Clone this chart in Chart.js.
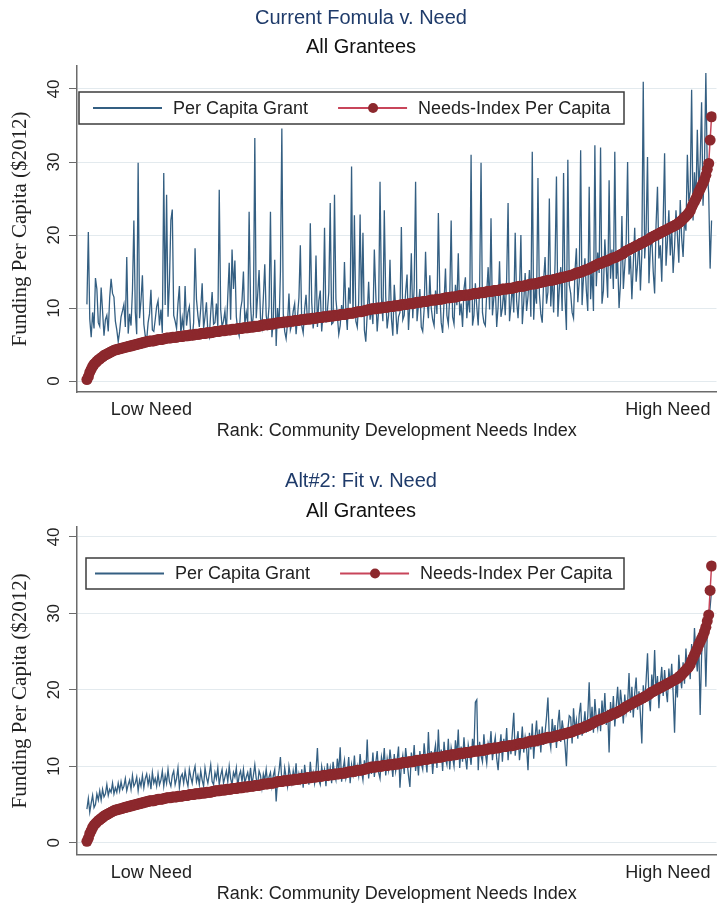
<!DOCTYPE html>
<html>
<head>
<meta charset="utf-8">
<title>Per Capita Grants v. Need</title>
<script src="https://cdn.jsdelivr.net/npm/chart.js@4.4.0/dist/chart.umd.min.js"></script>
<style>
  html, body { margin: 0; padding: 0; background: #fff; }
  body { width: 722px; height: 907px; position: relative; overflow: hidden; }
  .panel { position: absolute; left: 0; width: 722px; }
  canvas { display: block; }
</style>
</head>
<body>
<div class="panel" style="top:0"><canvas id="current-chart" width="722" height="445"></canvas></div>
<div class="panel" style="top:462px"><canvas id="alt2-chart" width="722" height="445"></canvas></div>
<script>
// Grantees sorted by needs index (rank 0 = lowest need)
const needsIndex = [
  0.2, 0.6, 1.2, 1.6, 2.0, 2.3, 2.5, 2.7, 2.9, 3.0,
  3.2, 3.3, 3.5, 3.6, 3.7, 3.8, 3.9, 4.0, 4.1, 4.2,
  4.3, 4.3, 4.4, 4.4, 4.5, 4.5, 4.6, 4.6, 4.7, 4.7,
  4.8, 4.8, 4.9, 4.9, 5.0, 5.0, 5.1, 5.1, 5.2, 5.2,
  5.3, 5.3, 5.4, 5.4, 5.5, 5.5, 5.5, 5.5, 5.6, 5.6,
  5.7, 5.7, 5.7, 5.7, 5.8, 5.8, 5.9, 5.9, 5.9, 5.9,
  6.0, 6.0, 6.0, 6.0, 6.1, 6.1, 6.1, 6.1, 6.2, 6.2,
  6.2, 6.2, 6.3, 6.3, 6.3, 6.3, 6.4, 6.4, 6.4, 6.4,
  6.5, 6.5, 6.5, 6.5, 6.6, 6.6, 6.6, 6.6, 6.7, 6.7,
  6.8, 6.8, 6.8, 6.8, 6.9, 6.9, 6.9, 6.9, 7.0, 7.0,
  7.0, 7.0, 7.1, 7.1, 7.1, 7.1, 7.2, 7.2, 7.2, 7.2,
  7.3, 7.3, 7.3, 7.3, 7.4, 7.4, 7.4, 7.4, 7.5, 7.5,
  7.5, 7.5, 7.6, 7.6, 7.7, 7.7, 7.7, 7.7, 7.8, 7.8,
  7.8, 7.8, 7.9, 7.9, 8.0, 8.0, 8.0, 8.0, 8.1, 8.1,
  8.1, 8.1, 8.2, 8.2, 8.2, 8.2, 8.3, 8.3, 8.3, 8.3,
  8.4, 8.4, 8.4, 8.4, 8.5, 8.5, 8.5, 8.5, 8.6, 8.6,
  8.6, 8.6, 8.7, 8.7, 8.7, 8.7, 8.8, 8.8, 8.8, 8.8,
  8.9, 8.9, 8.9, 8.9, 9.0, 9.0, 9.0, 9.0, 9.1, 9.1,
  9.1, 9.1, 9.2, 9.2, 9.3, 9.3, 9.3, 9.3, 9.4, 9.4,
  9.5, 9.5, 9.5, 9.5, 9.6, 9.6, 9.7, 9.7, 9.8, 9.8,
  9.9, 9.9, 9.9, 9.9, 10.0, 10.0, 10.0, 10.0, 10.1, 10.1,
  10.1, 10.1, 10.2, 10.2, 10.2, 10.2, 10.3, 10.3, 10.3, 10.3,
  10.4, 10.4, 10.5, 10.5, 10.5, 10.5, 10.6, 10.6, 10.6, 10.6,
  10.7, 10.7, 10.8, 10.8, 10.8, 10.8, 10.9, 10.9, 10.9, 10.9,
  11.0, 11.0, 11.1, 11.1, 11.1, 11.1, 11.2, 11.2, 11.2, 11.2,
  11.3, 11.3, 11.4, 11.4, 11.4, 11.4, 11.5, 11.5, 11.5, 11.5,
  11.6, 11.6, 11.7, 11.7, 11.7, 11.7, 11.8, 11.8, 11.8, 11.8,
  11.9, 11.9, 12.0, 12.0, 12.0, 12.0, 12.1, 12.1, 12.1, 12.1,
  12.2, 12.2, 12.3, 12.3, 12.3, 12.3, 12.4, 12.4, 12.4, 12.4,
  12.5, 12.5, 12.6, 12.6, 12.6, 12.6, 12.7, 12.7, 12.7, 12.7,
  12.8, 12.8, 12.9, 12.9, 13.0, 13.0, 13.0, 13.0, 13.1, 13.1,
  13.2, 13.2, 13.3, 13.3, 13.3, 13.3, 13.4, 13.4, 13.5, 13.5,
  13.6, 13.6, 13.7, 13.7, 13.8, 13.8, 13.8, 13.8, 13.9, 13.9,
  14.0, 14.0, 14.1, 14.1, 14.2, 14.2, 14.3, 14.3, 14.4, 14.4,
  14.5, 14.5, 14.6, 14.7, 14.8, 14.8, 14.9, 14.9, 15.0, 15.1,
  15.2, 15.2, 15.3, 15.4, 15.5, 15.6, 15.7, 15.8, 15.9, 16.0,
  16.1, 16.1, 16.2, 16.3, 16.4, 16.4, 16.5, 16.6, 16.7, 16.8,
  16.9, 16.9, 17.0, 17.1, 17.2, 17.3, 17.4, 17.5, 17.7, 17.8,
  17.9, 18.0, 18.1, 18.2, 18.3, 18.4, 18.5, 18.6, 18.7, 18.8,
  18.9, 19.0, 19.1, 19.2, 19.3, 19.4, 19.6, 19.7, 19.8, 19.9,
  20.0, 20.1, 20.2, 20.3, 20.4, 20.5, 20.6, 20.7, 20.8, 20.9,
  21.0, 21.1, 21.2, 21.3, 21.4, 21.5, 21.7, 21.8, 22.0, 22.2,
  22.4, 22.6, 22.8, 23.0, 23.3, 23.8, 24.2, 24.6, 25.0, 25.4,
  25.9, 26.3, 26.7, 27.1, 27.6, 28.2, 29.0, 29.8, 33.0, 36.2
];

// Per capita grant under the current formula
const grantCurrent = [
  10.5, 20.4, 8.5, 6.0, 9.4, 7.2, 14.1, 12.6, 8.0, 7.5,
  12.8, 9.6, 6.2, 8.4, 9.0, 6.8, 11.4, 14.0, 12.0, 11.5,
  8.2, 7.0, 5.4, 6.8, 8.8, 9.6, 10.5, 7.4, 17.0, 6.5,
  9.2, 7.6, 12.4, 22.0, 9.5, 6.4, 29.9, 8.6, 11.0, 14.5,
  7.8, 6.2, 5.6, 8.0, 9.2, 12.5, 7.0, 6.8, 8.4, 10.2,
  11.0, 7.6, 9.8, 6.6, 28.5, 10.4, 25.5, 8.8, 13.6, 22.0,
  23.5, 9.0, 8.2, 7.2, 10.6, 13.0, 6.4, 8.6, 7.0, 13.0,
  7.6, 9.4, 10.2, 6.2, 5.8, 8.0, 18.2, 11.2, 9.0, 7.4,
  10.0, 13.4, 7.2, 8.8, 10.8, 6.6, 6.0, 9.4, 12.2, 7.8,
  8.0, 10.6, 7.4, 26.2, 9.8, 7.4, 8.2, 9.6, 6.6, 11.6,
  16.2, 8.4, 18.0, 12.6, 16.5, 8.8, 7.0, 6.2, 9.8, 11.0,
  15.0, 7.8, 9.4, 8.0, 23.2, 10.6, 7.0, 9.2, 33.3, 8.6,
  11.8, 15.2, 8.6, 7.4, 11.4, 16.0, 9.0, 7.6, 10.2, 23.2,
  6.0, 8.4, 16.6, 4.8, 10.0, 7.2, 15.0, 34.6, 9.2, 6.8,
  5.8, 8.0, 12.0, 7.0, 7.8, 9.6, 10.6, 6.4, 8.8, 11.4,
  18.6, 7.6, 6.6, 9.8, 11.8, 8.2, 8.4, 21.6, 10.8, 7.2,
  9.0, 17.2, 7.4, 11.0, 12.4, 6.8, 9.4, 21.0, 8.0, 9.6,
  12.2, 24.4, 7.8, 8.0, 25.5, 11.2, 9.0, 6.4, 7.6, 10.4,
  8.4, 16.3, 9.8, 7.0, 12.8, 10.6, 29.4, 8.6, 22.7, 8.2,
  7.4, 10.8, 22.8, 9.6, 20.3, 7.0, 5.4, 9.2, 13.6, 8.4,
  10.2, 7.8, 18.0, 12.0, 6.8, 9.6, 27.3, 11.4, 8.2, 23.4,
  11.6, 7.2, 9.0, 16.6, 8.6, 6.2, 13.2, 10.0, 6.4, 8.8,
  9.4, 21.1, 8.4, 9.0, 12.2, 14.6, 7.0, 10.6, 17.5, 8.6,
  12.8, 27.3, 8.2, 10.4, 12.6, 7.4, 6.8, 9.8, 17.7, 11.2,
  8.6, 14.5, 10.0, 8.4, 7.6, 12.4, 9.2, 23.0, 12.2, 8.0,
  6.6, 10.8, 15.4, 9.0, 7.8, 11.6, 22.0, 8.8, 7.8, 13.2,
  10.4, 17.5, 9.0, 10.6, 7.4, 12.6, 14.2, 8.6, 11.8, 9.4,
  31.0, 7.6, 9.0, 13.4, 10.2, 7.6, 12.8, 29.9, 9.4, 8.0,
  7.6, 12.2, 15.6, 9.8, 22.3, 9.0, 11.4, 13.0, 7.4, 10.2,
  16.4, 8.8, 10.0, 12.6, 9.0, 14.0, 24.4, 8.2, 10.4, 13.2,
  9.4, 20.3, 11.0, 8.6, 12.4, 20.0, 7.8, 10.8, 14.8, 9.6,
  11.6, 15.2, 8.8, 31.4, 8.4, 12.8, 10.6, 27.8, 12.0, 9.2,
  8.0, 13.8, 17.0, 10.6, 12.2, 25.0, 10.2, 14.6, 9.4, 16.0,
  28.0, 8.8, 12.6, 15.6, 9.6, 28.5, 11.4, 7.0, 30.3, 13.2,
  12.0, 9.4, 8.6, 15.0, 18.2, 10.8, 13.6, 31.6, 10.4, 14.2,
  16.8, 12.4, 9.6, 26.6, 11.2, 15.4, 9.6, 32.3, 13.0, 17.6,
  14.8, 32.0, 10.6, 12.4, 19.4, 15.6, 11.4, 27.5, 14.0, 18.0,
  12.6, 31.4, 14.0, 16.6, 10.0, 13.4, 22.6, 12.6, 15.8, 19.0,
  30.0, 14.6, 17.2, 11.2, 16.0, 21.0, 13.6, 16.0, 19.6, 12.4,
  17.4, 41.0, 16.8, 20.6, 30.7, 13.4, 18.2, 19.8, 15.0, 12.0,
  21.4, 26.6, 16.8, 18.6, 13.6, 22.0, 31.2, 15.8, 19.2, 23.4,
  17.2, 21.0, 14.8, 18.4, 23.4, 20.0, 16.2, 24.8, 19.6, 17.0,
  22.2, 20.6, 31.0, 24.6, 26.0, 39.9, 22.0, 28.6, 24.4, 34.4,
  26.2, 30.0, 38.2, 24.0, 29.4, 42.2, 28.8, 25.7, 15.4, 22.0
];

// Per capita grant under alternative #2 (fitted to need)
const grantAlt2 = [
  4.4, 5.8, 4.0, 5.2, 6.2, 4.6, 5.0, 6.4, 5.6, 6.8,
  5.6, 7.0, 6.0, 6.4, 7.6, 6.2, 7.0, 6.6, 7.8, 6.4,
  7.2, 6.6, 7.8, 6.8, 8.0, 7.0, 7.4, 8.4, 6.8, 7.6,
  8.2, 7.0, 8.8, 7.4, 7.8, 8.6, 6.8, 8.2, 7.4, 8.8,
  7.2, 8.4, 9.0, 7.6, 8.6, 7.0, 9.2, 7.8, 8.4, 7.4,
  9.0, 7.6, 8.2, 9.4, 7.4, 8.8, 7.8, 9.6, 8.0, 7.4,
  8.8, 9.4, 7.6, 8.4, 9.8, 7.2, 8.6, 9.0, 7.8, 9.4,
  8.2, 7.4, 9.6, 8.6, 7.8, 9.2, 10.0, 8.0, 8.8, 7.6,
  9.4, 8.2, 7.4, 9.8, 8.6, 7.8, 9.0, 10.2, 8.0, 7.6,
  9.2, 8.4, 9.8, 7.6, 8.8, 9.6, 7.8, 8.6, 9.4, 8.0,
  10.0, 8.4, 7.6, 9.2, 8.6, 9.8, 7.4, 8.8, 9.4, 8.0,
  9.6, 7.8, 8.6, 9.2, 8.0, 9.8, 7.6, 8.8, 10.2, 8.4,
  7.6, 9.4, 8.8, 7.2, 9.0, 8.2, 9.6, 7.8, 8.6, 9.2,
  7.4, 8.8, 9.6, 5.4, 8.2, 9.4, 11.2, 8.0, 7.6, 9.8,
  8.6, 7.4, 10.0, 8.8, 7.8, 9.4, 8.2, 10.4, 7.6, 9.0,
  8.0, 9.6, 7.2, 10.2, 8.6, 9.0, 7.6, 10.6, 8.4, 9.2,
  7.8, 9.4, 12.4, 8.2, 7.6, 10.0, 8.8, 9.6, 7.4, 10.4,
  8.6, 9.8, 7.8, 10.6, 9.0, 8.2, 11.0, 9.4, 12.5, 8.0,
  9.6, 10.8, 8.4, 9.2, 11.2, 7.8, 10.2, 9.0, 11.4, 8.6,
  10.0, 8.8, 11.6, 9.4, 8.2, 10.8, 9.2, 13.5, 8.4, 10.6,
  9.0, 11.8, 8.6, 10.4, 12.0, 9.2, 8.4, 11.2, 10.0, 12.4,
  8.8, 11.0, 9.6, 12.2, 10.4, 8.6, 11.6, 9.4, 10.8, 12.6,
  7.2, 10.2, 11.4, 9.0, 12.4, 10.6, 8.8, 7.3, 11.8, 10.0,
  12.8, 9.4, 11.2, 8.8, 12.0, 10.4, 9.6, 13.0, 11.0, 9.2,
  14.5, 10.4, 12.0, 9.0, 11.6, 12.8, 9.8, 14.8, 10.6, 12.2,
  9.4, 13.2, 11.0, 10.2, 13.6, 9.6, 12.4, 11.2, 10.0, 13.4,
  11.4, 14.8, 9.8, 12.6, 10.6, 13.8, 11.2, 9.6, 12.8, 11.6,
  10.2, 13.6, 12.0, 18.4, 18.7, 9.5, 13.2, 11.4, 10.6, 14.2,
  11.8, 10.4, 13.0, 12.2, 14.6, 10.8, 12.6, 13.8, 11.0, 9.5,
  12.4, 14.2, 10.6, 13.6, 12.0, 15.0, 10.8, 13.4, 11.6, 14.4,
  17.0, 11.4, 13.2, 14.6, 10.8, 12.6, 15.2, 11.8, 13.8, 12.4,
  9.5, 14.4, 12.2, 15.6, 11.0, 13.8, 16.0, 12.6, 14.8, 11.8,
  15.2, 12.8, 14.4, 16.4, 19.0, 13.6, 12.4, 16.2, 14.0, 15.4,
  12.4, 15.6, 17.4, 13.2, 16.0, 14.6, 12.8, 10.0, 14.8, 16.6,
  16.4, 13.0, 17.6, 14.6, 16.0, 13.6, 16.8, 18.3, 14.0, 15.2,
  17.2, 14.4, 16.6, 21.0, 15.0, 17.8, 14.4, 18.8, 16.2, 15.0,
  17.6, 14.6, 18.6, 16.0, 19.6, 15.4, 17.4, 11.8, 18.4, 16.0,
  19.2, 15.2, 17.8, 20.4, 16.6, 20.0, 18.0, 15.6, 19.4, 17.0,
  18.2, 22.2, 17.0, 20.4, 16.4, 19.6, 21.6, 17.4, 19.8, 16.8,
  13.0, 20.6, 18.4, 21.2, 24.8, 19.0, 17.2, 22.0, 19.8, 25.2,
  19.4, 21.8, 17.6, 20.8, 23.0, 19.2, 22.6, 20.0, 18.4, 22.8,
  20.6, 23.4, 19.6, 14.4, 21.2, 19.0, 24.6, 21.8, 20.2, 23.6,
  20.8, 25.4, 22.0, 24.2, 21.4, 26.0, 23.2, 28.1, 24.6, 22.4,
  26.4, 16.7, 24.6, 27.2, 28.2, 20.4, 27.6, 29.0, 30.8, 33.0
];

const yTickValues = [0, 10, 20, 30, 40];
const xTickLabels = ['Low Need', 'High Need'];

Chart.defaults.font.family = '"Liberation Sans", Arial, sans-serif';

const GRANT_COLOR = '#345f82';
const NEED_LINE = '#c8455a';
const NEED_MARKER = '#8c282d';
const AXIS_COLOR = '#6b6b6b';

// Stata-style legend box drawn inside the plot region
const boxLegend = {
  id: 'boxLegend',
  afterDatasetsDraw(chart, args, opts) {
    const { ctx, chartArea } = chart;
    const boxX = chartArea.left + opts.boxLeft;
    const boxY = chartArea.top + opts.boxTop;
    ctx.save();
    ctx.fillStyle = '#ffffff';
    ctx.fillRect(boxX, boxY, opts.boxWidth, opts.boxHeight);
    ctx.strokeStyle = '#3c3c3c';
    ctx.lineWidth = 1.5;
    ctx.strokeRect(boxX, boxY, opts.boxWidth, opts.boxHeight);

    const midY = boxY + opts.boxHeight / 2;
    ctx.font = '18px "Liberation Sans", Arial, sans-serif';
    ctx.textBaseline = 'middle';
    let x = chartArea.left + opts.itemStart;
    chart.data.datasets.forEach(ds => {
      ctx.strokeStyle = ds.borderColor;
      ctx.lineWidth = 2;
      ctx.beginPath();
      ctx.moveTo(x, midY);
      ctx.lineTo(x + 69, midY);
      ctx.stroke();
      if (ds.pointRadius > 0) {
        ctx.fillStyle = ds.pointBackgroundColor;
        ctx.beginPath();
        ctx.arc(x + 35, midY, 5, 0, Math.PI * 2);
        ctx.fill();
      }
      ctx.fillStyle = '#222';
      ctx.fillText(ds.label, x + 80, midY + 1);
      x += 80 + ctx.measureText(ds.label).width + 30;
    });
    ctx.restore();
  }
};

function toPoints(values) {
  return values.map((v, i) => ({ x: i, y: v }));
}

function buildChart(canvasId, grants, panel) {
  return new Chart(document.getElementById(canvasId), {
    type: 'line',
    data: {
      datasets: [
        {
          label: 'Per Capita Grant',
          data: toPoints(grants),
          borderColor: GRANT_COLOR,
          borderWidth: 1.3,
          pointRadius: 0,
          tension: 0,
          order: 2
        },
        {
          label: 'Needs-Index Per Capita',
          data: toPoints(needsIndex),
          borderColor: NEED_LINE,
          borderWidth: 1.5,
          pointRadius: 5.5,
          pointBackgroundColor: NEED_MARKER,
          pointBorderWidth: 0,
          tension: 0,
          order: 1
        }
      ]
    },
    options: {
      responsive: false,
      animation: false,
      events: [],
      layout: { padding: { left: 0, right: 0, top: 0, bottom: panel.padBottom } },
      plugins: {
        legend: { display: false },
        tooltip: { enabled: false },
        title: {
          display: true,
          text: panel.title,
          color: '#1f3b6a',
          font: { size: 20, weight: 'normal' },
          padding: panel.titlePad
        },
        subtitle: {
          display: true,
          text: 'All Grantees',
          color: '#111',
          font: { size: 20 },
          padding: panel.subtitlePad
        },
        boxLegend: panel.legend
      },
      scales: {
        x: {
          type: 'linear',
          min: -6.97,
          max: 442.48,
          afterBuildTicks: scale => {
            // label anchors near each end of the rank axis
            scale.ticks = [{ value: 45.3 }, { value: 408.3 }];
          },
          ticks: {
            callback: (value, index) => xTickLabels[index],
            autoSkip: false,
            minRotation: 0,
            maxRotation: 0,
            padding: 7,
            color: '#222',
            font: { size: 18 }
          },
          grid: { display: false, drawTicks: false },
          border: { color: AXIS_COLOR, width: 1.5 },
          title: {
            display: true,
            text: 'Rank: Community Development Needs Index',
            color: '#222',
            font: { size: 18 },
            padding: { top: -7, bottom: 2 }
          }
        },
        y: {
          min: panel.yMin,
          max: panel.yMax,
          afterBuildTicks: scale => {
            scale.ticks = yTickValues.map(v => ({ value: v }));
          },
          ticks: {
            minRotation: 90,
            maxRotation: 90,
            crossAlign: 'center',
            padding: 5.5,
            color: '#222',
            font: { size: 17 }
          },
          grid: {
            color: '#e3eaee',
            lineWidth: 1,
            tickColor: AXIS_COLOR,
            tickLength: 8
          },
          border: { color: AXIS_COLOR, width: 1.5 },
          title: {
            display: true,
            text: 'Funding Per Capita ($2012)',
            color: '#222',
            font: { family: '"Liberation Serif", "Times New Roman", serif', size: 21 },
            padding: { top: 7.4, bottom: 5 }
          }
        }
      }
    },
    plugins: [boxLegend]
  });
}

buildChart('current-chart', grantCurrent, {
  title: 'Current Fomula v. Need',
  titlePad: { top: 6, bottom: 0 },
  subtitlePad: { top: 5, bottom: 7 },
  padBottom: 0.8,
  yMin: -1.5,
  yMax: 43.15,
  legend: { boxLeft: 2, boxTop: 26, boxWidth: 545, boxHeight: 32, itemStart: 16 }
});

buildChart('alt2-chart', grantAlt2, {
  title: 'Alt#2: Fit v. Need',
  titlePad: { top: 7, bottom: 0 },
  subtitlePad: { top: 6, bottom: 4 },
  padBottom: 0,
  yMin: -1.57,
  yMax: 41.3,
  legend: { boxLeft: 9, boxTop: 31, boxWidth: 538, boxHeight: 31, itemStart: 18 }
});
</script>
</body>
</html>
